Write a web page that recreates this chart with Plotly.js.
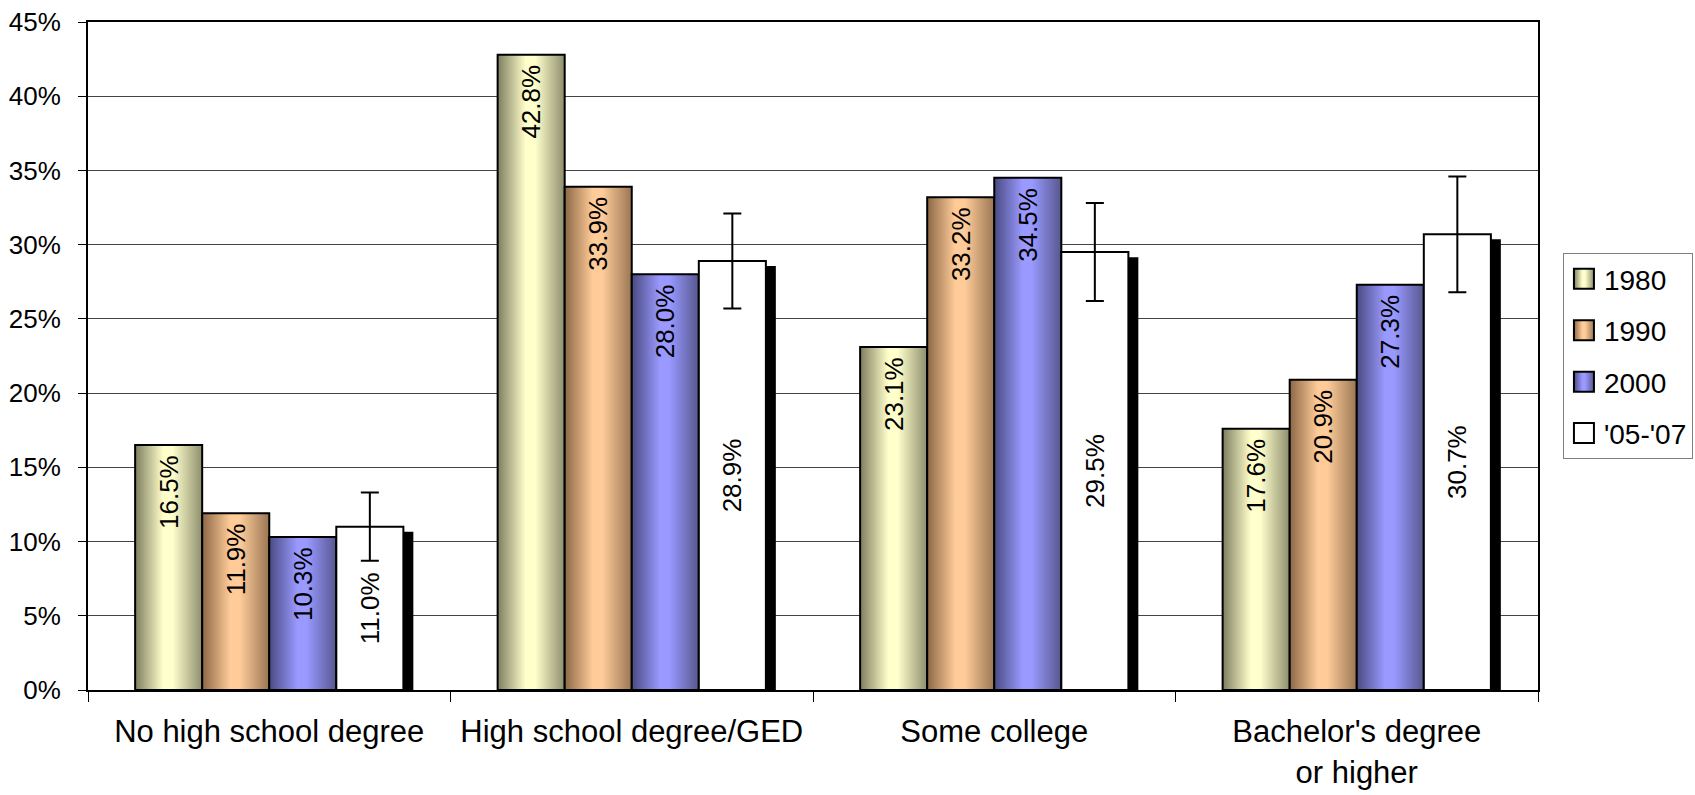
<!DOCTYPE html>
<html>
<head>
<meta charset="utf-8">
<script src="https://cdn.plot.ly/plotly-3.0.1.min.js"></script>
<style>
  html, body { margin: 0; padding: 0; background: #ffffff; }
  #chart { width: 1695px; height: 795px; }
</style>
</head>
<body>
<div id="chart"></div>
<script>
// ---- Data ----
const categories = ['No high school degree', 'High school degree/GED', 'Some college', "Bachelor's degree<br>or higher"];
const seriesNames = ['1980', '1990', '2000', "'05-'07"];
const y1980 = [16.5, 42.8, 23.1, 17.6];
const y1990 = [11.9, 33.9, 33.2, 20.9];
const y2000 = [10.3, 28.0, 34.5, 27.3];
const y0507 = [11.0, 28.9, 29.5, 30.7];
const err0507 = [2.3, 3.2, 3.3, 3.9];
const yTickVals = [0, 5, 10, 15, 20, 25, 30, 35, 40, 45];
const yTickLabels = ['0%', '5%', '10%', '15%', '20%', '25%', '30%', '35%', '40%', '45%'];

// ---- Styling ----
const FONT = 'Liberation Sans, Arial, Helvetica, sans-serif';
const BW = 0.185;               // bar width in category units
const gradDefs = {
  g1980: { dark: '#7e7e60', light: '#ffffcc', darkR: '#8e8e6e' },
  g1990: { dark: '#8c6846', light: '#ffcc99', darkR: '#9a7654' },
  g2000: { dark: '#4a4a82', light: '#9999ff', darkR: '#575790' }
};

function barTrace(name, y, offset, color, gradId, anchor) {
  return {
    type: 'bar', name: name, x: categories, y: y,
    offset: offset, width: BW,
    marker: { color: color, line: { color: '#000000', width: 2 } },
    texttemplate: '%{y:.1f}%' + (anchor === 'end' ? '\u00a0' : ''),
    textposition: 'inside', insidetextanchor: anchor, textangle: -90,
    constraintext: 'none',
    insidetextfont: { family: FONT, size: 26, color: '#000000' },
    legendgroup: name, hoverinfo: 'skip', meta: gradId
  };
}

const shadowTrace = {
  type: 'bar', name: 'shadow', x: categories,
  y: y0507.map(v => v - 0.34),
  offset: BW + 0.0275, width: BW,
  marker: { color: '#000000', line: { width: 0 } },
  showlegend: false, hoverinfo: 'skip'
};

const t1980 = barTrace(seriesNames[0], y1980, -2 * BW, '#e0e0b0', 'g1980', 'end');
const t1990 = barTrace(seriesNames[1], y1990, -BW, '#e0b080', 'g1990', 'end');
const t2000 = barTrace(seriesNames[2], y2000, 0, '#8080e0', 'g2000', 'end');
const t0507 = barTrace(seriesNames[3], y0507, BW, '#ffffff', null, 'middle');
t0507.error_y = { type: 'data', array: err0507, symmetric: true, color: '#000000', thickness: 2, width: 9 };

const data = [shadowTrace, t1980, t1990, t2000, t0507];

const layout = {
  width: 1695, height: 795,
  margin: { l: 88, r: 157, t: 22, b: 105, autoexpand: false },
  paper_bgcolor: '#ffffff', plot_bgcolor: '#ffffff',
  barmode: 'overlay',
  showlegend: true,
  legend: {
    x: 1.0172, xanchor: 'left', y: 0.654, yanchor: 'top',
    bordercolor: '#808080', borderwidth: 1, bgcolor: '#ffffff',
    font: { family: FONT, size: 28, color: '#000000' },
    traceorder: 'grouped', tracegroupgap: 12
  },
  xaxis: {
    type: 'category',
    tickson: 'boundaries', ticks: 'outside', ticklen: 10, tickcolor: '#000000', tickwidth: 1,
    showline: true, linecolor: '#000000', linewidth: 2, mirror: true,
    showgrid: false, zeroline: false,
    tickfont: { family: FONT, size: 31, color: '#000000' },
    ticklabelstandoff: 13,
    fixedrange: true
  },
  yaxis: {
    range: [0, 45], tickmode: 'array', tickvals: yTickVals, ticktext: yTickLabels,
    ticks: 'outside', ticklen: 8, tickcolor: '#000000', tickwidth: 1,
    showline: true, linecolor: '#000000', linewidth: 2, mirror: true,
    showgrid: true, gridcolor: '#444444', gridwidth: 1, zeroline: false,
    tickfont: { family: FONT, size: 26, color: '#000000' },
    ticklabelstandoff: 12,
    fixedrange: true
  }
};

Plotly.newPlot('chart', data, layout, { staticPlot: true, displayModeBar: false }).then(function (gd) {
  const ns = 'http://www.w3.org/2000/svg';
  const svg = gd.querySelector('.main-svg');
  let defs = svg.querySelector('defs');
  if (!defs) { defs = document.createElementNS(ns, 'defs'); svg.insertBefore(defs, svg.firstChild); }
  Object.keys(gradDefs).forEach(function (id) {
    const g = gradDefs[id];
    const lg = document.createElementNS(ns, 'linearGradient');
    lg.setAttribute('id', id);
    lg.setAttribute('x1', '0'); lg.setAttribute('y1', '0');
    lg.setAttribute('x2', '1'); lg.setAttribute('y2', '0');
    [[0, g.dark], [0.42, g.light], [0.56, g.light], [1, g.darkR]].forEach(function (s) {
      const st = document.createElementNS(ns, 'stop');
      st.setAttribute('offset', s[0]);
      st.setAttribute('stop-color', s[1]);
      lg.appendChild(st);
    });
    defs.appendChild(lg);
  });
  // Apply gradients to bars
  const traceGroups = gd.querySelectorAll('.barlayer .trace');
  traceGroups.forEach(function (tg, i) {
    const gid = data[i] && data[i].meta;
    if (gid) {
      tg.querySelectorAll('.point path').forEach(function (p) { p.style.fill = 'url(#' + gid + ')'; });
    }
  });
  // Legend symbols: enlarge (keeping Plotly's own centring transform) and apply gradients
  const nameToGrad = {};
  data.forEach(function (t) { if (t.showlegend !== false) nameToGrad[t.name] = t.meta; });
  gd.querySelectorAll('.legend .traces').forEach(function (tr) {
    const txt = tr.querySelector('.legendtext');
    const name = txt ? txt.textContent : '';
    tr.querySelectorAll('.legendpoints path').forEach(function (p) {
      p.setAttribute('d', 'M10,10H-10V-10H10Z');
      p.style.strokeWidth = '2px';
      p.style.stroke = '#000000';
      const gid = nameToGrad[name];
      p.style.fill = gid ? 'url(#' + gid + ')' : '#ffffff';
    });
  });
});
</script>
</body>
</html>
